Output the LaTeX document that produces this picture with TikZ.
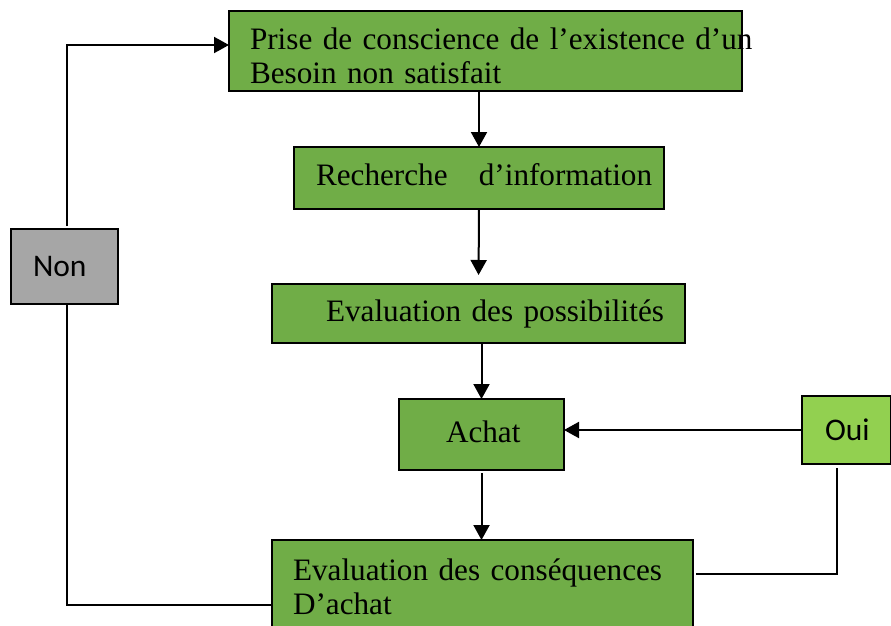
\documentclass[tikz,border=0pt]{standalone}
\usepackage{fontspec}
\setmainfont{Liberation Serif}
\newfontfamily\answerfont{Carlito}
\usepackage{tikz}
\usetikzlibrary{positioning,arrows.meta}
\definecolor{stagegreen}{HTML}{70AD47}
\definecolor{yesgreen}{HTML}{92D050}
\definecolor{nogray}{HTML}{A6A6A6}
\tikzstyle{connector} = [line width=2pt,-{Triangle[length=15pt,width=16pt]}]
\tikzstyle{stage} = [rectangle, draw, fill=stagegreen, line width=2pt, outer sep=0pt, inner ysep=0pt, align=left, font=\fontsize{31.2pt}{34pt}\selectfont, text height=22pt, text depth=7pt]
\tikzstyle{answer} = [rectangle, draw, line width=2pt, outer sep=0pt, inner ysep=0pt, align=left, font=\answerfont\fontsize{31.5pt}{34pt}\selectfont]

\begin{document}
\begin{tikzpicture}[x=1pt,y=-1pt]
        \useasboundingbox (0,0) rectangle (891,626);
        \node (stage-1) [stage, text height=30pt, text depth=34pt, inner xsep=21pt, text width=471pt, minimum height=80pt] at (485.5,51) {\mbox{Prise de conscience de l’existence d’un}\\Besoin non satisfait};
        \node (stage-2) [stage, below=56pt of stage-1, xshift=-6.5pt, inner xsep=22pt, text width=326pt, minimum height=62pt] {\mbox{Recherche\ \ \ d’information}};
        \node (stage-3) [stage, below=75pt of stage-2, xshift=-0.5pt, inner xsep=54pt, text width=305pt, minimum height=59pt] {\mbox{Evaluation des possibilités}};
        \node (stage-4) [stage, below=56pt of stage-3, xshift=3pt, inner xsep=47pt, text width=71pt, minimum height=71pt] {\mbox{Achat}};
        \node (stage-5) [stage, below=70pt of stage-4, xshift=1pt, text height=22pt, text depth=34pt, inner xsep=21pt, text width=379pt, minimum height=92pt] {Evaluation des conséquences\\D’achat};
        \node (answer-no) [answer, fill=nogray, left=154pt of stage-3, yshift=47pt, inner xsep=22pt, text width=63pt, minimum height=75pt] {Non};
        \node (answer-yes) [answer, fill=yesgreen, right=238pt of stage-4, yshift=4.5pt, inner xsep=23pt, text width=43pt, minimum height=68pt] {\mbox{Oui}};
        \draw [connector] (stage-1.south -| stage-2.north) -- (stage-2.north);
        \draw [connector, shorten >=9pt] (stage-2.south) -- (stage-3.north);
        \draw [connector] (stage-3.south -| stage-4.north) -- (stage-4.north);
        \draw [connector, shorten <=3pt] (stage-4.south) -- (stage-4.south |- stage-5.north);
        \draw [connector] (answer-yes.west) -- (answer-yes.west -| stage-4.east);
        \draw [connector,-] ([xshift=-9.5pt,yshift=-4pt]answer-yes.south) |- ([xshift=3pt,yshift=12pt]stage-5.east);
        \draw [connector] ([xshift=2.5pt,yshift=3pt]answer-no.north) |- ([yshift=6pt]stage-1.west);
        \draw [connector,-] ([xshift=2.5pt]answer-no.south) |- ([yshift=-19pt]stage-5.west);
    \end{tikzpicture}
\end{document}
